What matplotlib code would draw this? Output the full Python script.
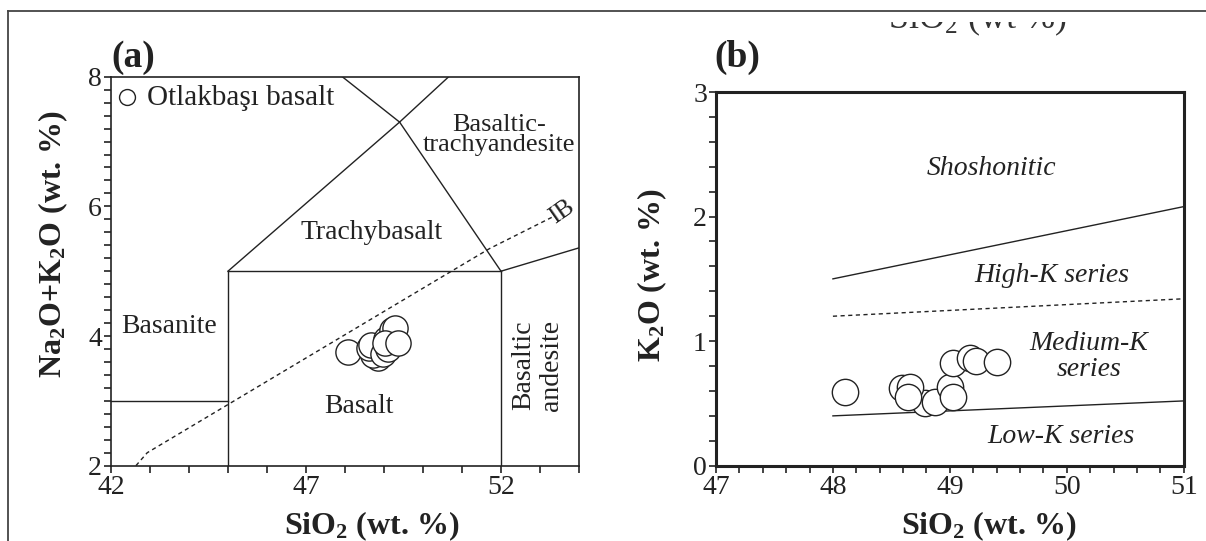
import matplotlib
matplotlib.use('Agg')
import matplotlib.pyplot as plt
from matplotlib.lines import Line2D
from matplotlib.patches import Rectangle
from matplotlib.ticker import MultipleLocator, FixedLocator

plt.rcParams['font.family'] = ['Liberation Serif', 'DejaVu Serif']
plt.rcParams['mathtext.fontset'] = 'custom'
plt.rcParams['mathtext.rm'] = 'Liberation Serif'
plt.rcParams['mathtext.it'] = 'Liberation Serif:italic'
plt.rcParams['mathtext.bf'] = 'Liberation Serif:bold'

INK = '#222222'

# Otlakbasi basalt samples, TAS diagram (SiO2 vs total alkali)
tas_sio2 = [48.08, 48.85, 48.73, 48.62, 48.66, 48.98, 49.10, 49.05, 49.20, 49.28, 49.03, 49.37]
tas_alk = [3.76, 3.66, 3.71, 3.81, 3.86, 3.73, 3.80, 3.95, 4.09, 4.12, 3.89, 3.89]

# same samples, SiO2 vs K2O
k_sio2 = [48.79, 48.87, 48.59, 48.66, 48.64, 49.00, 49.03, 49.03, 49.17, 49.22, 49.40, 48.10]
k_k2o = [0.50, 0.514, 0.621, 0.634, 0.554, 0.634, 0.554, 0.822, 0.862, 0.843, 0.835, 0.594]

# TAS field boundaries
tas_bounds = [
    ([42, 45], [3, 3]),
    ([45, 45], [2, 5]),
    ([45, 52], [5, 5]),
    ([52, 52], [2, 5]),
    ([52, 54], [5, 5.36]),
    ([45, 49.4, 50.66], [5, 7.3, 8]),
    ([49.4, 52], [7.3, 5]),
    ([49.4, 47.93], [7.3, 8]),
]
# Irvine & Baragar alkaline / subalkaline divide
ib_sio2 = [42.64, 42.93, 50.73, 51.71, 53.30]
ib_alk = [2.0, 2.2, 5.0, 5.35, 5.83]

# K2O series boundaries
k_solid = [([48, 51], [1.5, 2.08]), ([48, 51], [0.4, 0.52])]
k_dashed = ([48, 51], [1.2, 1.34])

fig = plt.figure(figsize=(12.06, 5.41), dpi=100)

# caption of the panel above, mostly cut off by the top edge
fig.text(977 / 1206, 1 - 28.5 / 541, r'SiO$_2$ (wt %)', ha='center', va='baseline',
         fontsize=26, color='#333333', zorder=3)
fig.add_artist(Rectangle((0.6, 1 - 21.5 / 541), 0.4, 21.5 / 541, transform=fig.transFigure,
                         facecolor='white', edgecolor='none', zorder=4))

# frame around the figure
fx = 8 / 1206
fy = 1 - 10.5 / 541
fig.add_artist(Line2D([fx, fx], [0, fy], transform=fig.transFigure, color='#444444', lw=1.3, zorder=5))
fig.add_artist(Line2D([fx, 1], [fy, fy], transform=fig.transFigure, color='#444444', lw=1.3, zorder=5))

ax1 = fig.add_axes([0.0920, 0.1392, 0.3881, 0.7190])
ax2 = fig.add_axes([0.5937, 0.1392, 0.3878, 0.6907])

# ---- (a) TAS ----
for xs, ys in tas_bounds:
    ax1.plot(xs, ys, color=INK, lw=1.0, zorder=2)
ax1.plot(ib_sio2, ib_alk, color=INK, lw=1.0, dashes=(3, 2.5), zorder=2)
ax1.scatter(tas_sio2, tas_alk, s=330, facecolor='white', edgecolor=INK, linewidth=1.0,
            zorder=3, label='Otlakbaşı basalt')

ax1.set_xlim(42, 54)
ax1.set_ylim(2, 8)
ax1.xaxis.set_major_locator(FixedLocator([42, 47, 52]))
ax1.xaxis.set_minor_locator(MultipleLocator(1))
ax1.yaxis.set_major_locator(MultipleLocator(2))
ax1.yaxis.set_minor_locator(MultipleLocator(0.2))

ax1.text(43.49, 4.14, 'Basanite', ha='center', va='center', fontsize=20, color=INK)
ax1.text(48.35, 2.92, 'Basalt', ha='center', va='center', fontsize=20, color=INK)
ax1.text(48.67, 5.59, 'Trachybasalt', ha='center', va='center', fontsize=20, color=INK)
ax1.text(51.95, 7.1, 'Basaltic-\ntrachyandesite', ha='center', va='center', fontsize=19,
         linespacing=0.9, color=INK)
ax1.text(52.95, 3.55, 'Basaltic\nandesite', ha='center', va='center', fontsize=20,
         rotation=90, linespacing=1.15, color=INK)
ax1.text(53.56, 5.91, 'IB', ha='center', va='center', fontsize=18, rotation=35, color=INK)

ax1.legend(loc='upper left', bbox_to_anchor=(-0.019, 1.011), frameon=False, fontsize=21,
           scatterpoints=1, markerscale=0.63, handlelength=0.9, handletextpad=0.25,
           borderaxespad=0.2, borderpad=0.2, labelcolor=INK)

ax1.set_xlabel(r'$\mathbf{SiO_2}$ (wt. %)', fontsize=23, fontweight='bold', color=INK)
ax1.xaxis.set_label_coords(0.5577, -0.1756)
ax1.xaxis.label.set_va('baseline')
ax1.set_ylabel(r'$\mathbf{Na_2O{+}K_2O}$ (wt. %)', fontsize=23, fontweight='bold', color=INK)
ax1.yaxis.set_label_coords(-0.124, 0.570)
ax1.yaxis.label.set_va('center')
ax1.text(0, 1.0494, '(a)', transform=ax1.transAxes, ha='left', va='center',
         fontsize=27, fontweight='bold', color=INK)

# ---- (b) SiO2 vs K2O ----
for xs, ys in k_solid:
    ax2.plot(xs, ys, color=INK, lw=1.0, zorder=2)
ax2.plot(*k_dashed, color=INK, lw=1.0, dashes=(3, 2.5), zorder=2)
ax2.scatter(k_sio2, k_k2o, s=360, facecolor='white', edgecolor=INK, linewidth=1.0, zorder=3)

ax2.set_xlim(47, 51)
ax2.set_ylim(0, 3)
ax2.xaxis.set_major_locator(MultipleLocator(1))
ax2.xaxis.set_minor_locator(MultipleLocator(0.2))
ax2.yaxis.set_major_locator(MultipleLocator(1))
ax2.yaxis.set_minor_locator(MultipleLocator(0.2))

it = dict(ha='center', va='center', fontsize=20, style='italic', color=INK)
ax2.text(49.36, 2.39, 'Shoshonitic', **it)
ax2.text(49.87, 1.53, 'High-K series', **it)
ax2.text(50.19, 0.877, 'Medium-K\nseries', linespacing=1.1, **it)
ax2.text(49.95, 0.233, 'Low-K series', **it)

ax2.set_xlabel(r'$\mathbf{SiO_2}$ (wt. %)', fontsize=23, fontweight='bold', color=INK)
ax2.xaxis.set_label_coords(0.5826, -0.1828)
ax2.xaxis.label.set_va('baseline')
ax2.set_ylabel(r'$\mathbf{K_2O}$ (wt. %)', fontsize=23, fontweight='bold', color=INK)
ax2.yaxis.set_label_coords(-0.137, 0.510)
ax2.yaxis.label.set_va('center')
ax2.text(-0.004, 1.0937, '(b)', transform=ax2.transAxes, ha='left', va='center',
         fontsize=27, fontweight='bold', color=INK)

for ax, lw in ((ax1, 1.2), (ax2, 2.2)):
    for sp in ax.spines.values():
        sp.set_linewidth(lw)
        sp.set_color(INK)
    ax.tick_params(which='both', direction='out', length=5, width=1.2, colors=INK,
                   labelsize=20, pad=1.5)

fig.savefig('out.png', dpi=100)
